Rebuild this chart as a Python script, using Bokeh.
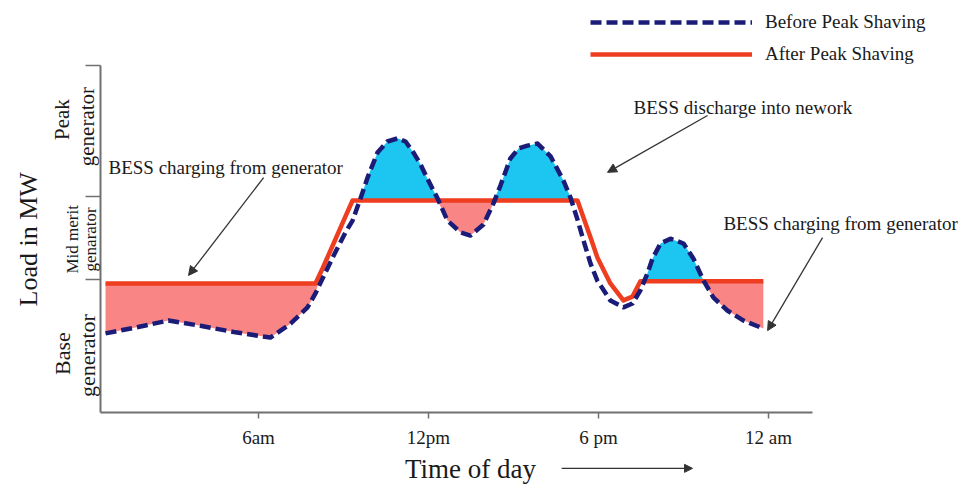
import numpy as np
from bokeh.plotting import figure
from bokeh.models import Range1d, FixedTicker, Label, Arrow, NormalHead, Legend, LegendItem
from bokeh.embed import file_html
from bokeh.resources import INLINE

# ---- data (hour of day, load in arbitrary MW units) ----
hours = [0.60, 1.66, 2.82, 3.95, 5.19, 6.42, 7.13, 7.73, 8.01, 8.26, 8.65, 9.07, 9.32, 9.60,
         9.85, 10.20, 10.55, 10.91, 11.19, 11.47, 11.72, 11.96, 12.32, 12.67, 13.13, 13.48,
         13.94, 14.29, 14.54, 14.89, 15.18, 15.49, 15.85, 16.31, 16.76, 17.01, 17.26, 17.47,
         17.72, 17.96, 18.42, 18.88, 19.20, 19.48, 19.73, 19.91, 20.19, 20.54, 21.00, 21.35,
         21.71, 22.06, 22.55, 23.12, 23.82]
load_before = [22.8, 24.5, 26.5, 25.0, 23.1, 21.6, 25.6, 30.3, 34.3, 38.6, 45.2, 51.9, 55.3, 61.7,
               67.7, 74.9, 78.1, 79.0, 78.1, 74.9, 71.5, 67.4, 61.7, 55.3, 51.9, 51.0,
               54.2, 60.2, 65.4, 73.2, 76.1, 76.9, 77.5, 73.8, 66.9, 62.0, 55.6, 49.6,
               42.9, 38.0, 32.3, 30.3, 31.4, 35.2, 40.1, 44.4, 48.7, 50.1, 48.7, 44.4,
               38.0, 33.1, 29.4, 26.5, 24.2]
load_after = [37.2, 37.2, 37.2, 37.2, 37.2, 37.2, 37.2, 37.2, 37.2, 41.5, 48.7, 56.5, 61.1, 61.1,
              61.1, 61.1, 61.1, 61.1, 61.1, 61.1, 61.1, 61.1, 61.1, 61.1, 61.1, 61.1,
              61.1, 61.1, 61.1, 61.1, 61.1, 61.1, 61.1, 61.1, 61.1, 61.1, 61.1, 56.2,
              50.4, 44.7, 37.2, 32.3, 33.4, 37.8, 37.8, 37.8, 37.8, 37.8, 37.8, 37.8,
              37.8, 37.8, 37.8, 37.8, 37.8]
charge_windows = [(0.6, 8.1), (12.3, 14.3), (21.4, 23.9)]
tick_hours = [6, 12, 18, 24]
tick_labels = ["6am", "12pm", "6 pm", "12 am"]
gen_bounds = [38.3, 62.2, 100.0]
x_axis_span = (0.42, 25.55)
y_axis_span = (0.0, 100.0)

SERIF = "Liberation Serif"
TXT = "#1a1a1a"
AXC = "#707070"

p = figure(width=973, height=488, output_backend="svg", toolbar_location=None,
           x_range=Range1d(-3.107, 31.238), y_range=Range1d(-21.90, 118.73),
           min_border_left=0, min_border_right=0, min_border_top=0, min_border_bottom=0)
p.outline_line_color = None
p.grid.visible = False
p.title.visible = False

x = np.array(hours)
b = np.array(load_before)
a = np.array(load_after)
mask = np.zeros(len(x), dtype=bool)
for lo, hi in charge_windows:
    mask |= (x >= lo) & (x <= hi)
pink_low = np.where(mask, np.minimum(a, b), a)
cyan_high = np.maximum(a, b)

p.varea(x=x, y1=pink_low, y2=a, fill_color="#F98585")
p.varea(x=x, y1=a, y2=cyan_high, fill_color="#1CC6F0")

r_after = p.line(x, a, line_color="#EE3D1F", line_width=4.5, line_join="round")
r_before = p.line(x, b, line_color="#1B1B78", line_width=4.5, line_dash="11 5", line_join="round")

# axes (drawn at fixed data positions inside the canvas)
xa = p.xaxis[0]
xa.fixed_location = y_axis_span[0]
xa.bounds = x_axis_span
xa.ticker = FixedTicker(ticks=tick_hours)
xa.major_label_overrides = {h: l for h, l in zip(tick_hours, tick_labels)}
xa.major_tick_in = 0
xa.major_tick_out = 6
xa.minor_tick_out = 0
xa.minor_tick_in = 0
xa.axis_line_color = AXC
xa.axis_line_width = 2
xa.major_tick_line_color = AXC
xa.major_tick_line_width = 1.5
xa.major_label_text_font = SERIF
xa.major_label_text_font_size = "19px"
xa.major_label_text_color = TXT
xa.major_label_standoff = 8

ya = p.yaxis[0]
ya.fixed_location = x_axis_span[0]
ya.bounds = y_axis_span
ya.ticker = FixedTicker(ticks=gen_bounds)
ya.major_label_overrides = {v: "" for v in gen_bounds}
ya.major_tick_in = 0
ya.major_tick_out = 15
ya.minor_tick_out = 0
ya.minor_tick_in = 0
ya.axis_line_color = AXC
ya.axis_line_width = 2
ya.major_tick_line_color = AXC
ya.major_tick_line_width = 1.5


def lab(text, xx, yy, size, angle=0.0, align="left", baseline="alphabetic"):
    p.add_layout(Label(x=xx, y=yy, text=text, text_font=SERIF, text_font_size=size,
                       text_color=TXT, angle=angle, text_align=align, text_baseline=baseline))


ROT = np.pi / 2
lab("Load in MW", -2.12, 49.9, "26px", ROT, "center", "middle")
lab("Peak", -0.92, 84.4, "21px", ROT, "center", "middle")
lab("generator", -0.04, 82.4, "21px", ROT, "center", "middle")
lab("Mid merit", -0.57, 49.9, "17px", ROT, "center", "middle")
lab("genarator", 0.07, 49.9, "17px", ROT, "center", "middle")
lab("Base", -0.92, 17.0, "22px", ROT, "center", "middle")
lab("generator", -0.04, 16.4, "22px", ROT, "center", "middle")

lab("BESS charging from generator", 0.705, 70.6, "19px")
lab("BESS discharge into nework", 19.24, 87.9, "19px")
lab("BESS charging from generator", 22.41, 54.5, "19px")
lab("Time of day", 13.48, -16.4, "27px", 0.0, "center", "middle")


def arrow(x0, y0, x1, y1, size=9):
    p.add_layout(Arrow(end=NormalHead(size=size, fill_color="#333333", line_color="#333333"),
                       x_start=x0, y_start=y0, x_end=x1, y_end=y1,
                       line_color="#333333", line_width=1.3))


arrow(6.18, 67.7, 3.53, 39.5)
arrow(21.85, 85.6, 18.32, 69.2)
arrow(25.91, 50.4, 23.97, 23.6)
arrow(16.70, -16.1, 21.32, -16.1, 8)

legend = Legend(items=[LegendItem(label="Before Peak Shaving", renderers=[r_before]),
                       LegendItem(label="After Peak Shaving", renderers=[r_after])],
                location=(590, 423), orientation="vertical",
                glyph_width=162, glyph_height=20, label_height=20, spacing=10,
                padding=0, margin=0, label_standoff=13,
                label_text_font=SERIF, label_text_font_size="19px", label_text_color=TXT,
                border_line_color=None, background_fill_alpha=0)
p.add_layout(legend)

open("out.html", "w").write(file_html(p, INLINE))
